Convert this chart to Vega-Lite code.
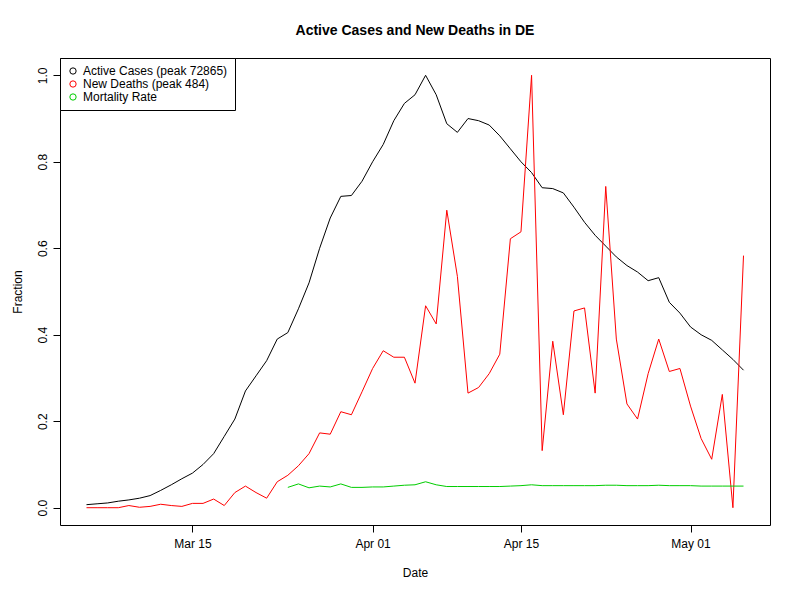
{
  "$schema": "https://vega.github.io/schema/vega-lite/v6.json",
  "width": 710,
  "height": 467,
  "autosize": {"type": "none"},
  "padding": {"left": 60, "top": 58, "right": 30, "bottom": 75},
  "background": "white",
  "title": {"text": "Active Cases and New Deaths in DE", "fontSize": 14, "fontWeight": "bold", "font": "Liberation Sans", "offset": 20, "anchor": "middle"},
  "data": {
    "values": [
      {"d":"2020/03/05","a":0.007,"n":0,"m":null},
      {"d":"2020/03/06","a":0.009,"n":0,"m":null},
      {"d":"2020/03/07","a":0.011,"n":0,"m":null},
      {"d":"2020/03/08","a":0.015,"n":0,"m":null},
      {"d":"2020/03/09","a":0.018,"n":0.005,"m":null},
      {"d":"2020/03/10","a":0.022,"n":0.001,"m":null},
      {"d":"2020/03/11","a":0.028,"n":0.003,"m":null},
      {"d":"2020/03/12","a":0.04,"n":0.008,"m":null},
      {"d":"2020/03/13","a":0.053,"n":0.005,"m":null},
      {"d":"2020/03/14","a":0.067,"n":0.003,"m":null},
      {"d":"2020/03/15","a":0.08,"n":0.01,"m":null},
      {"d":"2020/03/16","a":0.1,"n":0.01,"m":null},
      {"d":"2020/03/17","a":0.125,"n":0.02,"m":null},
      {"d":"2020/03/18","a":0.165,"n":0.005,"m":null},
      {"d":"2020/03/19","a":0.205,"n":0.035,"m":null},
      {"d":"2020/03/20","a":0.27,"n":0.05,"m":null},
      {"d":"2020/03/21","a":0.305,"n":0.035,"m":null},
      {"d":"2020/03/22","a":0.34,"n":0.022,"m":null},
      {"d":"2020/03/23","a":0.39,"n":0.06,"m":null},
      {"d":"2020/03/24","a":0.405,"n":0.075,"m":0.047},
      {"d":"2020/03/25","a":0.46,"n":0.097,"m":0.055},
      {"d":"2020/03/26","a":0.52,"n":0.125,"m":0.046},
      {"d":"2020/03/27","a":0.6,"n":0.173,"m":0.05},
      {"d":"2020/03/28","a":0.67,"n":0.17,"m":0.048},
      {"d":"2020/03/29","a":0.72,"n":0.222,"m":0.055},
      {"d":"2020/03/30","a":0.722,"n":0.215,"m":0.047},
      {"d":"2020/03/31","a":0.755,"n":0.268,"m":0.047},
      {"d":"2020/04/01","a":0.8,"n":0.322,"m":0.048},
      {"d":"2020/04/02","a":0.84,"n":0.363,"m":0.048},
      {"d":"2020/04/03","a":0.895,"n":0.348,"m":0.05},
      {"d":"2020/04/04","a":0.935,"n":0.348,"m":0.052},
      {"d":"2020/04/05","a":0.955,"n":0.288,"m":0.053},
      {"d":"2020/04/06","a":1.0,"n":0.467,"m":0.06},
      {"d":"2020/04/07","a":0.955,"n":0.425,"m":0.053},
      {"d":"2020/04/08","a":0.888,"n":0.688,"m":0.049},
      {"d":"2020/04/09","a":0.868,"n":0.535,"m":0.049},
      {"d":"2020/04/10","a":0.9,"n":0.265,"m":0.049},
      {"d":"2020/04/11","a":0.895,"n":0.278,"m":0.049},
      {"d":"2020/04/12","a":0.885,"n":0.31,"m":0.049},
      {"d":"2020/04/13","a":0.86,"n":0.355,"m":0.049},
      {"d":"2020/04/14","a":0.83,"n":0.622,"m":0.05},
      {"d":"2020/04/15","a":0.8,"n":0.638,"m":0.051},
      {"d":"2020/04/16","a":0.775,"n":1.0,"m":0.053},
      {"d":"2020/04/17","a":0.74,"n":0.132,"m":0.051},
      {"d":"2020/04/18","a":0.738,"n":0.385,"m":0.051},
      {"d":"2020/04/19","a":0.728,"n":0.215,"m":0.051},
      {"d":"2020/04/20","a":0.695,"n":0.455,"m":0.051},
      {"d":"2020/04/21","a":0.66,"n":0.462,"m":0.051},
      {"d":"2020/04/22","a":0.63,"n":0.265,"m":0.051},
      {"d":"2020/04/23","a":0.605,"n":0.743,"m":0.052},
      {"d":"2020/04/24","a":0.58,"n":0.39,"m":0.052},
      {"d":"2020/04/25","a":0.56,"n":0.24,"m":0.051},
      {"d":"2020/04/26","a":0.545,"n":0.205,"m":0.051},
      {"d":"2020/04/27","a":0.525,"n":0.31,"m":0.051},
      {"d":"2020/04/28","a":0.532,"n":0.39,"m":0.052},
      {"d":"2020/04/29","a":0.475,"n":0.315,"m":0.051},
      {"d":"2020/04/30","a":0.45,"n":0.322,"m":0.051},
      {"d":"2020/05/01","a":0.418,"n":0.235,"m":0.051},
      {"d":"2020/05/02","a":0.4,"n":0.16,"m":0.05},
      {"d":"2020/05/03","a":0.387,"n":0.112,"m":0.05},
      {"d":"2020/05/04","a":0.365,"n":0.262,"m":0.05},
      {"d":"2020/05/05","a":0.343,"n":0.0,"m":0.05},
      {"d":"2020/05/06","a":0.318,"n":0.583,"m":0.05}
    ]
  },
  "transform": [
    {"fold": ["a", "n", "m"], "as": ["key", "value"]},
    {"filter": "datum.value != null"},
    {"lookup": "key", "from": {"data": {"values": [
      {"key": "a", "series": "Active Cases (peak 72865)"},
      {"key": "n", "series": "New Deaths (peak 484)"},
      {"key": "m", "series": "Mortality Rate"}
    ]}, "key": "key", "fields": ["series"]}}
  ],
  "mark": {"type": "line", "strokeWidth": 1},
  "encoding": {
    "x": {
      "field": "d", "type": "temporal", "title": "Date",
      "scale": {"domain": [{"year": 2020, "month": 3, "date": 2, "hours": 12}, {"year": 2020, "month": 5, "date": 8, "hours": 12}], "nice": false},
      "axis": {"values": [{"year": 2020, "month": 3, "date": 15}, {"year": 2020, "month": 4, "date": 1}, {"year": 2020, "month": 4, "date": 15}, {"year": 2020, "month": 5, "date": 1}], "format": "%b %d", "titlePadding": 18, "labelPadding": 6}
    },
    "y": {
      "field": "value", "type": "quantitative", "title": "Fraction",
      "scale": {"domain": [-0.04, 1.04], "nice": false, "zero": false},
      "axis": {"values": [0, 0.2, 0.4, 0.6, 0.8, 1.0], "format": ".1f", "labelAngle": -90, "labelAlign": "center", "labelBaseline": "bottom", "labelPadding": 4, "titlePadding": 12}
    },
    "color": {
      "field": "series", "type": "nominal",
      "sort": ["Active Cases (peak 72865)", "New Deaths (peak 484)", "Mortality Rate"],
      "scale": {"domain": ["Active Cases (peak 72865)", "New Deaths (peak 484)", "Mortality Rate"], "range": ["#000000", "#FF0000", "#00CD00"]},
      "legend": {"title": null, "orient": "top-left", "offset": 0, "padding": 7, "strokeColor": "black", "fillColor": "white", "symbolType": "circle", "symbolFillColor": "transparent", "symbolStrokeWidth": 1, "symbolSize": 40, "labelFontSize": 12, "labelFont": "Liberation Sans", "rowPadding": 1, "labelLimit": 300}
    }
  },
  "config": {
    "view": {"stroke": "black", "strokeWidth": 1},
    "axis": {"grid": false, "domain": false, "tickColor": "black", "tickSize": 7, "labelColor": "black", "labelFontSize": 12, "labelFont": "Liberation Sans", "titleColor": "black", "titleFontSize": 12, "titleFont": "Liberation Sans", "titleFontWeight": "normal"}
  }
}
